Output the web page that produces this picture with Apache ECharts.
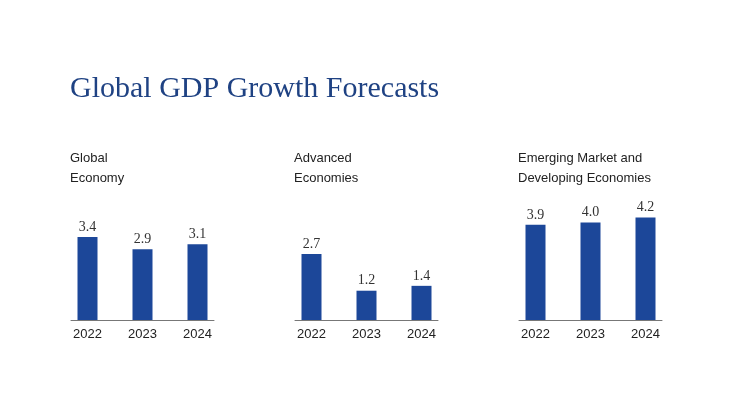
<!DOCTYPE html>
<html>
<head>
<meta charset="utf-8">
<script src="https://cdn.jsdelivr.net/npm/echarts@6/dist/echarts.min.js"></script>
<style>
html,body{margin:0;padding:0;background:#fff;}
#chart{width:733px;height:418px;}
</style>
</head>
<body>
<div id="chart"></div>
<script>
const years = ['2022', '2023', '2024'];
const panelTitles = ['Global\nEconomy', 'Advanced\nEconomies', 'Emerging Market and\nDeveloping Economies'];
const globalEconomy = [3.4, 2.9, 3.1];
const advancedEconomies = [2.7, 1.2, 1.4];
const emergingEconomies = [3.9, 4.0, 4.2];

const panels = [globalEconomy, advancedEconomies, emergingEconomies];
const BAR_COLOR = '#1c4799';
const panelLeft = [71, 295, 519];

const chart = echarts.init(document.getElementById('chart'));

const option = {
  backgroundColor: '#fff',
  animation: false,
  title: [
    {
      text: 'Global GDP Growth Forecasts',
      left: 70, top: 74, padding: 0,
      textStyle: { fontFamily: 'Liberation Serif', fontSize: 30, fontWeight: 'normal', color: '#1f4283' }
    }
  ].concat(panelTitles.map((t, i) => ({
    text: t,
    left: panelLeft[i] - 1, top: 148, padding: 0,
    textStyle: { fontFamily: 'Liberation Sans', fontSize: 13, fontWeight: 'normal', color: '#222', lineHeight: 20 }
  }))),
  grid: panels.map((_, i) => ({ left: panelLeft[i], width: 143, top: 198, bottom: 98 })),
  xAxis: panels.map((_, i) => ({
    type: 'value', gridIndex: i, min: -0.3, max: 2.3,
    splitLine: { show: false },
    axisTick: { show: false },
    axisLine: { show: true, lineStyle: { color: '#777', width: 1 } },
    axisLabel: {
      customValues: [0, 1, 2],
      formatter: v => years[Math.round(v)],
      fontFamily: 'Liberation Sans', fontSize: 13, color: '#222', margin: 8
    }
  })),
  yAxis: panels.map((_, i) => ({
    type: 'value', gridIndex: i, min: 0, max: 5, show: false
  })),
  series: panels.map((vals, i) => ({
    type: 'bar', xAxisIndex: i, yAxisIndex: i,
    barWidth: 20,
    data: vals.map((v, j) => [j, v]),
    itemStyle: { color: BAR_COLOR },
    label: {
      show: true, position: 'top', distance: 3,
      formatter: p => p.value[1].toFixed(1),
      fontFamily: 'Liberation Serif', fontSize: 14, color: '#333'
    }
  }))
};
chart.setOption(option);
</script>
</body>
</html>
